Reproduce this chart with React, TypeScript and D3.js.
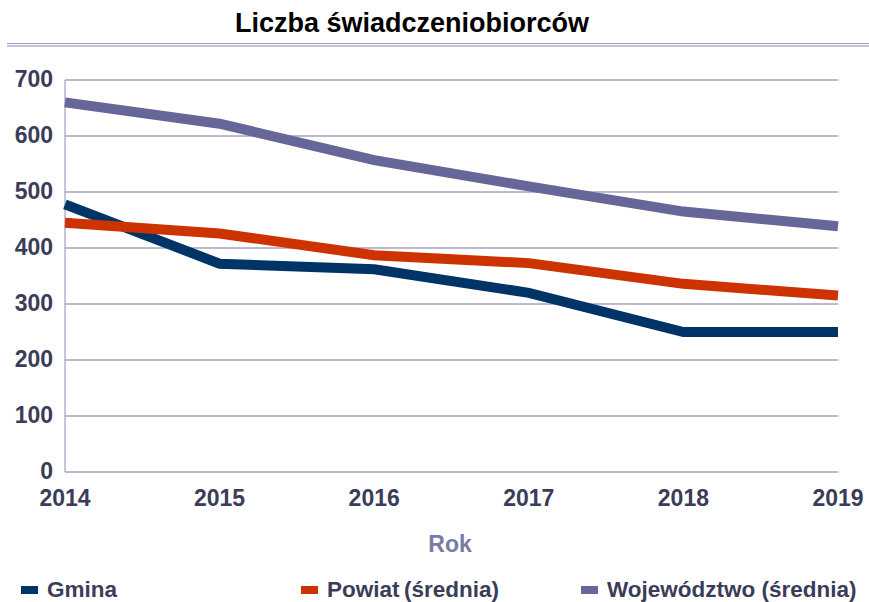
import React from "react";
import * as d3 from "d3";

// chart values
const years = ["2014", "2015", "2016", "2017", "2018", "2019"];
const gmina = [478, 372, 362, 320, 250, 250];
const powiat = [445, 426, 387, 373, 336, 315];
const wojewodztwo = [660, 622, 557, 510, 465, 439];
const yTicks = [0, 100, 200, 300, 400, 500, 600, 700];

const seriesNames = ["Gmina", "Powiat\u2009(średnia)", "Województwo (średnia)"];
const seriesColors = ["#003366", "#cc3300", "#666699"];

const W = 869;
const H = 602;
const margin = { left: 65, right: 31, top: 80, bottom: 130 };

const App = () => {
  const x = d3
    .scalePoint<string>()
    .domain(years)
    .range([margin.left, W - margin.right]);
  const y = d3
    .scaleLinear()
    .domain([0, 700])
    .range([H - margin.bottom, margin.top]);

  const line = d3
    .line<number>()
    .x((d, i) => x(years[i]) as number)
    .y(d => y(d));

  const series = [gmina, powiat, wojewodztwo];
  const font = "'Liberation Sans', Arial, sans-serif";
  const labelColor = "#3b3c58";

  // legend positions (square left edge)
  const legendX = [21, 301, 581];

  return (
    <svg
      width={W}
      height={H}
      style={{ position: "absolute", left: 0, top: 0, background: "#fff" }}
      fontFamily={font}
    >
      {/* title */}
      <text x={412} y={32} textAnchor="middle" fontSize={27} fontWeight="bold" fill="#000">
        Liczba świadczeniobiorców
      </text>
      <line x1={7} x2={W} y1={43.5} y2={43.5} stroke="#9aa0c8" strokeWidth={1} />
      <line x1={7} x2={W} y1={46} y2={46} stroke="#8088b8" strokeWidth={1.2} />

      {/* grid */}
      {yTicks.map(t => (
        <line
          key={t}
          x1={margin.left}
          x2={W - margin.right}
          y1={y(t)}
          y2={y(t)}
          stroke="#a4a6c6"
          strokeWidth={1.3}
        />
      ))}
      <line
        x1={margin.left}
        x2={margin.left}
        y1={y(700)}
        y2={y(0)}
        stroke="#a4a6c6"
        strokeWidth={1.3}
      />

      {/* y labels */}
      {yTicks.map(t => (
        <text
          key={t}
          x={53}
          y={y(t) - 1}
          dy="0.36em"
          textAnchor="end"
          fontSize={23}
          fontWeight="bold"
          fill={labelColor}
        >
          {t}
        </text>
      ))}

      {/* x labels */}
      {years.map(yr => (
        <text
          key={yr}
          x={x(yr)}
          y={506}
          textAnchor="middle"
          fontSize={23}
          fontWeight="bold"
          fill={labelColor}
        >
          {yr}
        </text>
      ))}
      <text x={450} y={552} textAnchor="middle" fontSize={23} fontWeight="bold" fill="#7a7aa8">
        Rok
      </text>

      {/* lines */}
      {series.map((s, i) => (
        <path
          key={i}
          d={line(s) as string}
          fill="none"
          stroke={seriesColors[i]}
          strokeWidth={10}
          strokeLinejoin="miter"
          strokeLinecap="butt"
        />
      ))}

      {/* legend */}
      {seriesNames.map((n, i) => (
        <g key={n}>
          <rect x={legendX[i]} y={586} width={17} height={8} fill={seriesColors[i]} />
          <text
            x={legendX[i] + 26}
            y={597}
            fontSize={22.5}
            fontWeight="bold"
            fill={labelColor}
          >
            {n}
          </text>
        </g>
      ))}
    </svg>
  );
};

export default App;
